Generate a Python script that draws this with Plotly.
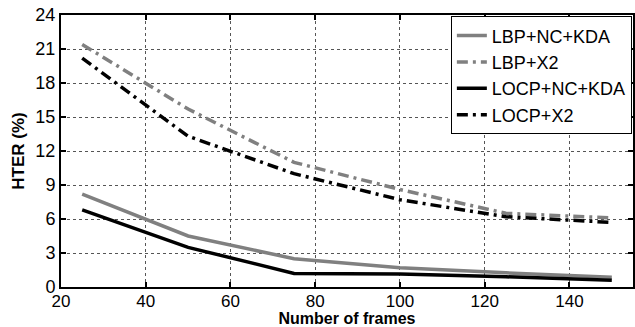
import plotly.graph_objects as go

frames = [25, 50, 75, 100, 125, 150]
lbp_nc_kda = [8.2, 4.5, 2.5, 1.7, 1.25, 0.85]
lbp_x2 = [21.4, 15.7, 11.0, 8.6, 6.5, 6.1]
locp_nc_kda = [6.8, 3.5, 1.2, 1.15, 0.9, 0.6]
locp_x2 = [20.2, 13.3, 10.0, 7.7, 6.2, 5.7]

series = [
    ("LBP+NC+KDA", lbp_nc_kda, "#808080", "solid"),
    ("LBP+X2", lbp_x2, "#808080", "11px,5px,3px,5px"),
    ("LOCP+NC+KDA", locp_nc_kda, "#000000", "solid"),
    ("LOCP+X2", locp_x2, "#000000", "11px,5px,3px,5px"),
]

fig = go.Figure()
for name, vals, color, dash in series:
    fig.add_trace(go.Scatter(x=frames, y=vals, mode="lines", name=name,
                             line=dict(color=color, width=3.5, dash=dash)))

font = "Liberation Sans"
axis_common = dict(showline=True, linecolor="black", linewidth=2, mirror="ticks",
                   ticks="inside", ticklen=5, tickwidth=1.5, tickcolor="black",
                   showgrid=True, gridcolor="#555555", griddash="dot", gridwidth=1,
                   zeroline=False, automargin=False,
                   tickfont=dict(family=font, size=18, color="black"))

fig.update_layout(
    width=635, height=327,
    margin=dict(l=61, r=2, t=15, b=40),
    paper_bgcolor="white", plot_bgcolor="white",
    showlegend=True,
    legend=dict(x=0.998, y=0.995, xanchor="right", yanchor="top",
                bgcolor="white", bordercolor="black", borderwidth=1,
                font=dict(family=font, size=18, color="black"),
                tracegroupgap=0),
    xaxis=dict(range=[20, 155], tickvals=[20, 40, 60, 80, 100, 120, 140],
               ticklabelstandoff=-2,
               title=dict(text="<b>Number of frames</b>", standoff=0,
                          font=dict(family=font, size=16, color="black")),
               **axis_common),
    yaxis=dict(range=[0, 24], tickvals=list(range(0, 25, 3)),
               title=dict(text="<b>HTER (%)</b>", standoff=6,
                          font=dict(family=font, size=17, color="black")),
               **axis_common),
)
fig.update_xaxes(tickfont=dict(size=17))

fig.write_html("out.html", config={"displayModeBar": False},
               post_script="document.body.style.margin='0';")
